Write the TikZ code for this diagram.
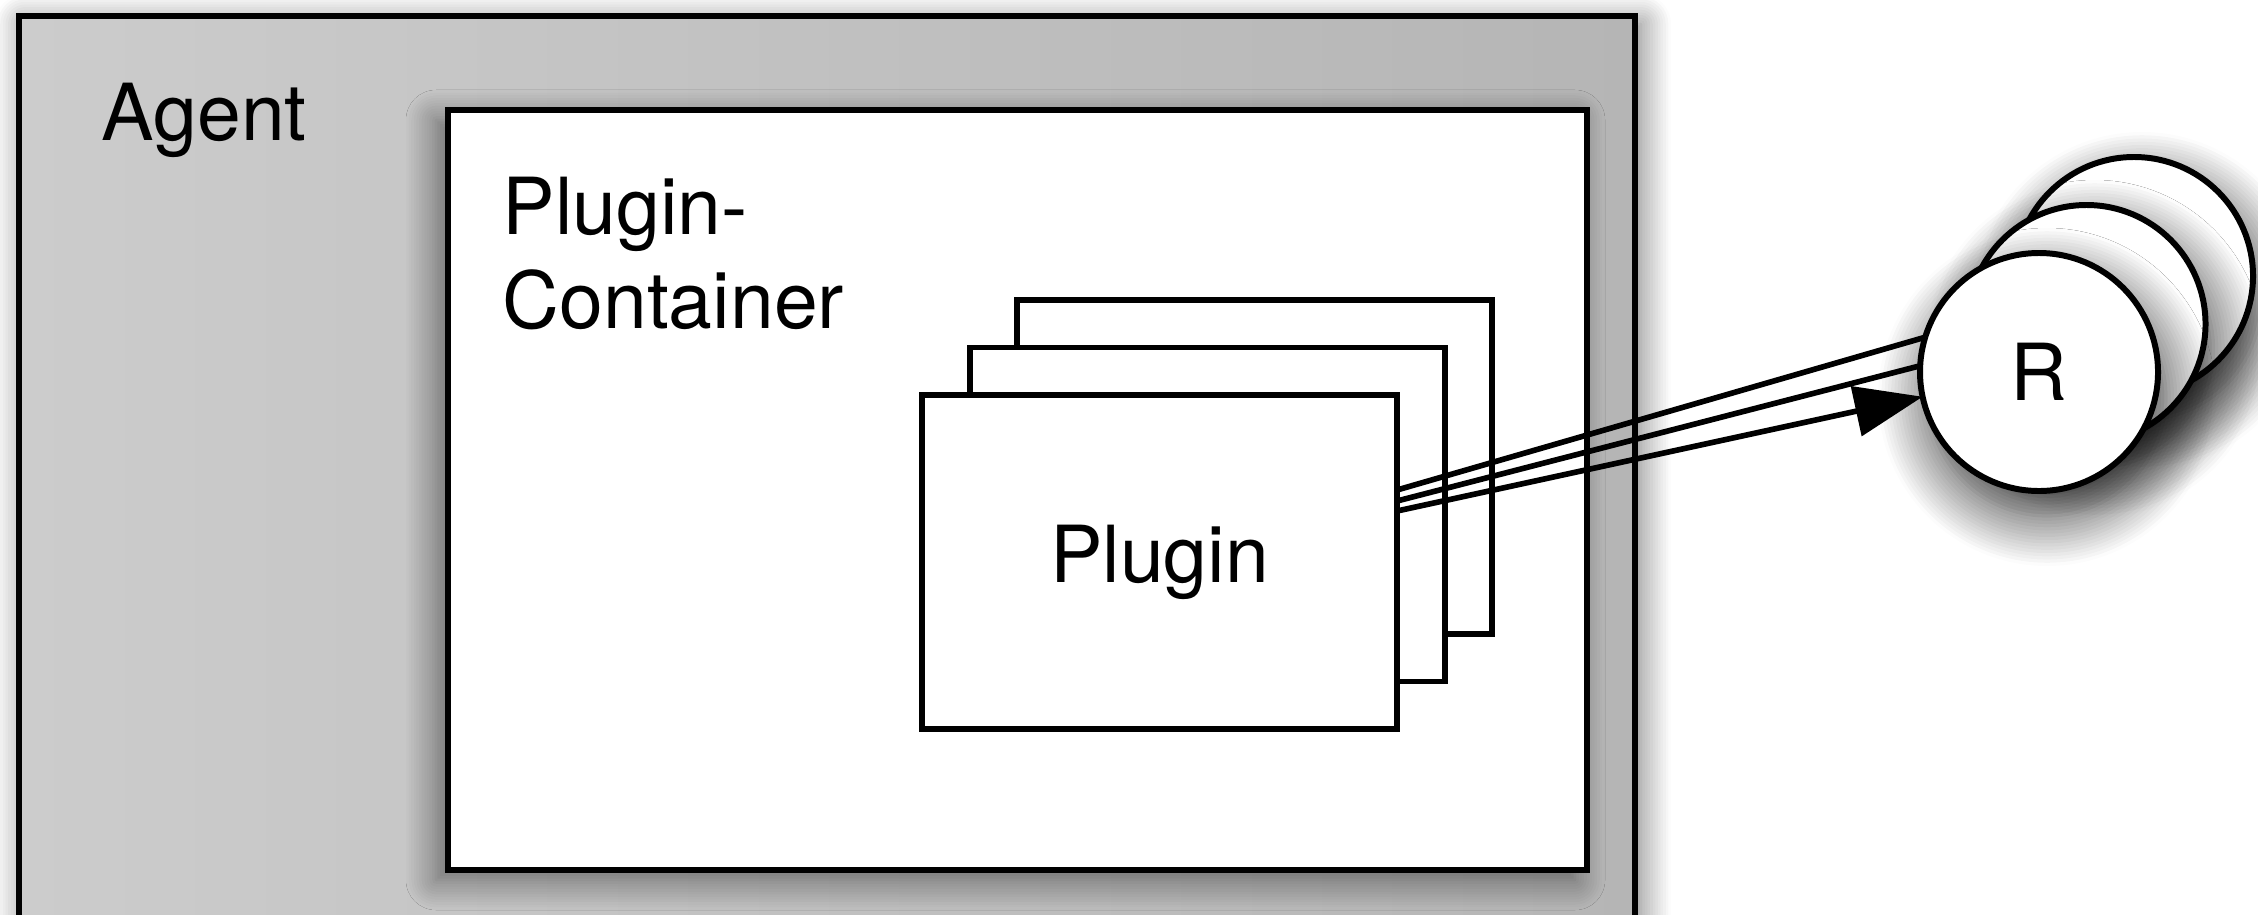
\documentclass[tikz,border=0pt]{standalone}
\usepackage{fontspec}
\setmainfont{TeX Gyre Heros}
\usetikzlibrary{positioning,calc,arrows.meta,shadows.blur}

\tikzset{
	agentbox/.style={draw, line width=1.7pt, outer sep=0pt, inner sep=0pt,
		left color=black!20, right color=black!29,
		minimum width=16.16cm, minimum height=9.28cm, anchor=south west,
		blur shadow={shadow xshift=0.06cm, shadow yshift=-0.08cm,
			shadow blur radius=0.3cm, shadow opacity=55, shadow blur steps=12}},
	contbox/.style={draw, fill=white, line width=1.7pt, outer sep=0pt, inner sep=0pt,
		minimum width=11.39cm, minimum height=7.6cm, anchor=south west,
		blur shadow={shadow xshift=-0.12cm, shadow yshift=-0.1cm,
			shadow blur radius=0.3cm, shadow opacity=50, shadow blur steps=12}},
	plugbox/.style={draw, fill=white, line width=1.7pt, outer sep=0pt,
		minimum width=4.75cm, minimum height=3.34cm, anchor=south west},
	resnode/.style={circle, draw, fill=white, line width=1.7pt, outer sep=0pt,
		inner sep=0pt, minimum size=2.38cm,
		blur shadow={shadow xshift=0.08cm, shadow yshift=-0.25cm,
			shadow blur radius=0.5cm, shadow opacity=80, shadow blur steps=16}},
	boxtitle/.style={anchor=north west, inner sep=0pt, align=left},
	link/.style={line width=1.6pt},
	every node/.append style={font=\fontsize{22.4pt}{27pt}\selectfont}
}

\begin{document}
\begin{tikzpicture}[x=1cm, y=1cm]
\useasboundingbox (0,0) rectangle (22.58,9.14);

% agent, runs past the lower edge
\node[agentbox] (agent) at (0.19,-0.3) {};
\node[boxtitle] (agenttitle) at (1.01,8.32) {Agent};

% plugin container
\node[contbox] (container) at (4.48,0.44) {};
\node[boxtitle] (conttitle) at (5.02,7.38) {Plugin-\\Container};

% stacked plugins, back to front
\foreach \i/\d in {3/2,2/1}{
	\node[plugbox] (plug\i) at ($(9.22,1.85)+(\d*0.475,\d*0.475)$) {};
}
\node[plugbox] (plug1) at (9.22,1.85) {Plugin};

% remote nodes, back to front
\foreach \i/\d in {3/2,2/1}{
	\node[resnode] (res\i) at ($(20.39,5.42)+(\d*0.475,\d*0.48)$) {};
}
\node[resnode] (res1) at (20.39,5.42) {R};

% links
\draw [link] ([yshift=0.72cm]plug1.east) -- (res1.163.8);
\draw [link] ([yshift=0.61cm]plug1.east) -- (res1.177.6);
\draw [link, -{Triangle[length=0.68cm, width=0.5cm]}]
([yshift=0.51cm]plug1.east) -- (res1.192);
\end{tikzpicture}
\end{document}
